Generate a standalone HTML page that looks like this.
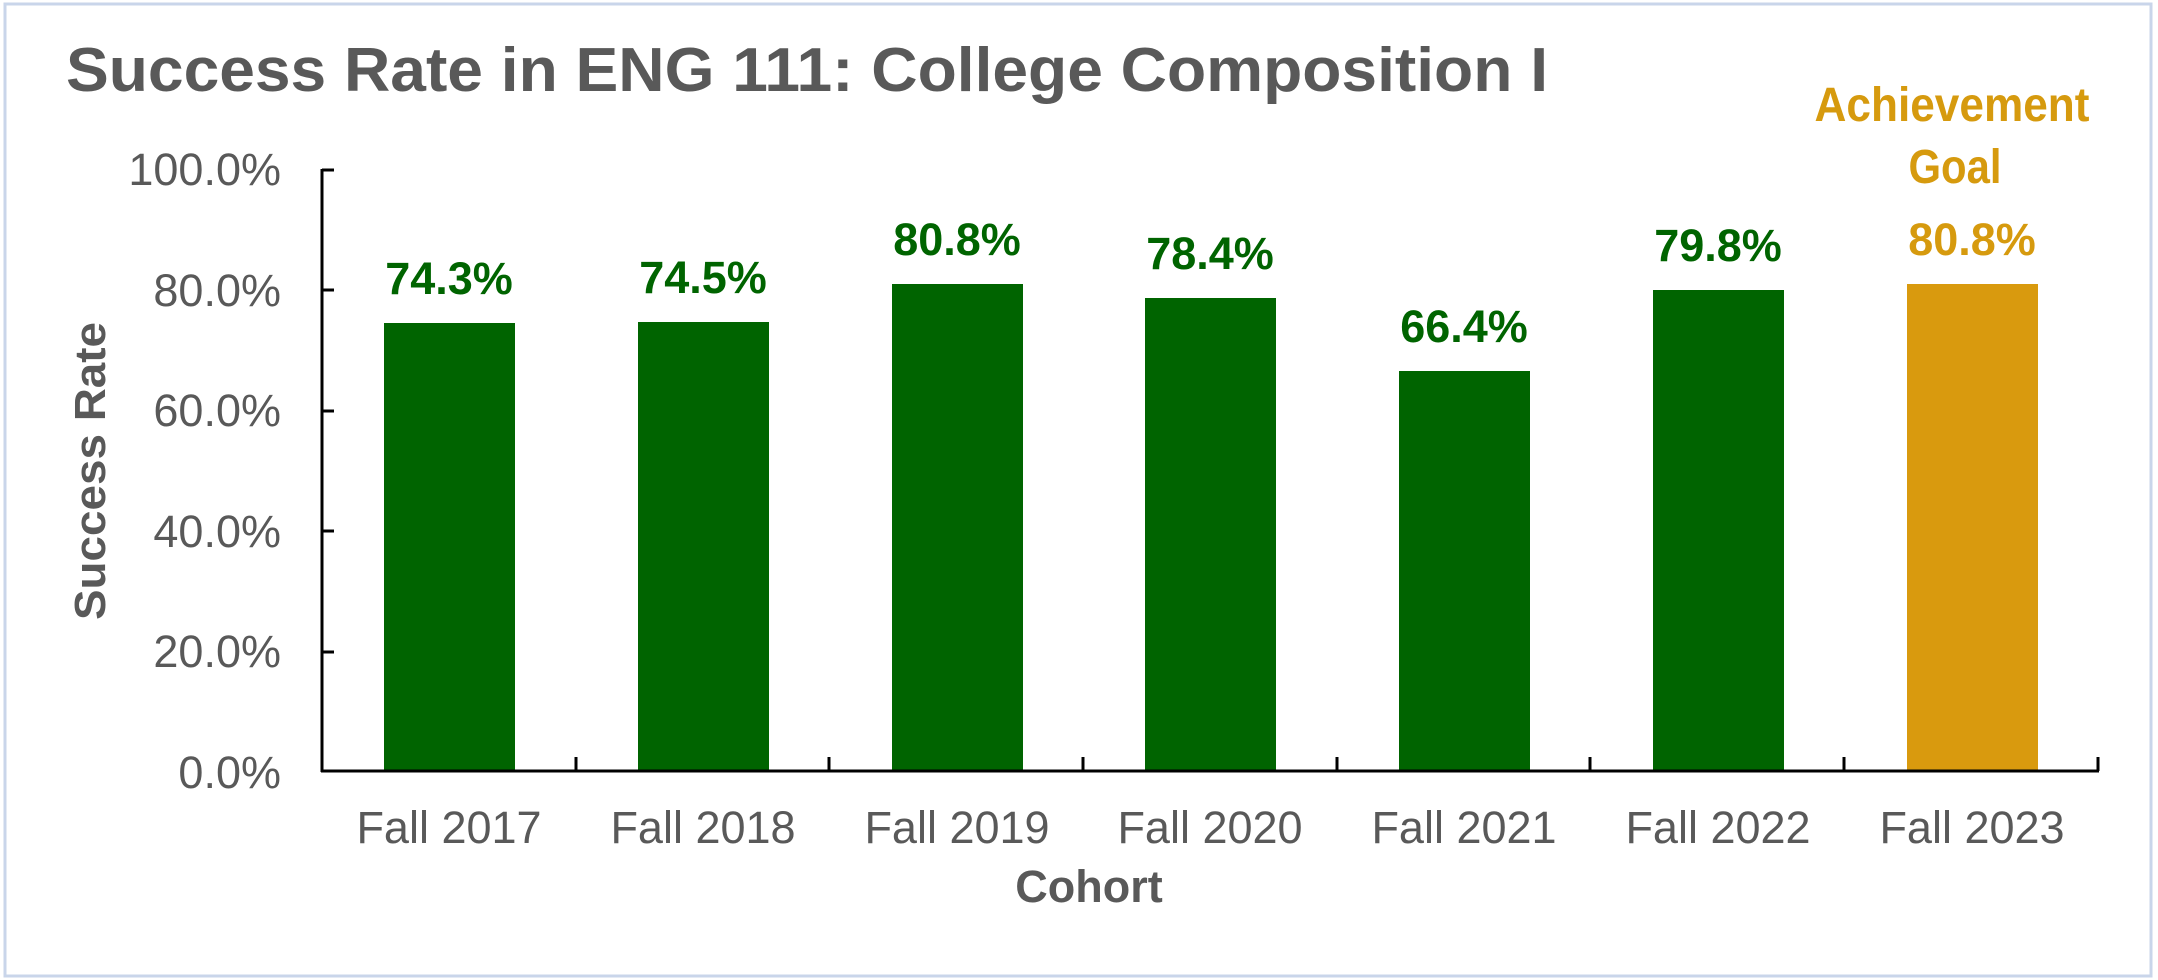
<!DOCTYPE html>
<html><head><meta charset="utf-8"><style>html,body{margin:0;padding:0;background:#fff}svg{display:block}</style></head><body>
<svg width="2158" height="980" viewBox="0 0 2158 980" xmlns="http://www.w3.org/2000/svg" font-family="Liberation Sans, Arial, sans-serif">
<rect x="5" y="4" width="2146" height="972" fill="#fff" stroke="#c9d5ea" stroke-width="3"/>
<text x="66" y="91" font-size="62" font-weight="bold" fill="#595959" textLength="1482" lengthAdjust="spacingAndGlyphs">Success Rate in ENG 111: College Composition I</text>
<g font-size="45" fill="#595959" text-anchor="end">
<text x="281" y="185">100.0%</text>
<text x="281" y="306">80.0%</text>
<text x="281" y="426">60.0%</text>
<text x="281" y="547">40.0%</text>
<text x="281" y="667">20.0%</text>
<text x="281" y="788">0.0%</text>
</g>
<g fill="#006400">
<rect x="384" y="323" width="131" height="448"/>
<rect x="638" y="322" width="131" height="449"/>
<rect x="892" y="284" width="131" height="487"/>
<rect x="1145" y="298" width="131" height="473"/>
<rect x="1399" y="371" width="131" height="400"/>
<rect x="1653" y="290" width="131" height="481"/>
</g>
<rect x="1907" y="284" width="131" height="487" fill="#d99a0e"/>
<g stroke="#000" stroke-width="3" fill="none">
<line x1="322" y1="169" x2="322" y2="772"/>
<line x1="321" y1="771" x2="2099" y2="771"/>
<line x1="322" y1="170" x2="334" y2="170"/>
<line x1="322" y1="290" x2="334" y2="290"/>
<line x1="322" y1="411" x2="334" y2="411"/>
<line x1="322" y1="531" x2="334" y2="531"/>
<line x1="322" y1="652" x2="334" y2="652"/>
<line x1="576" y1="771" x2="576" y2="757"/>
<line x1="829" y1="771" x2="829" y2="757"/>
<line x1="1083" y1="771" x2="1083" y2="757"/>
<line x1="1337" y1="771" x2="1337" y2="757"/>
<line x1="1590" y1="771" x2="1590" y2="757"/>
<line x1="1844" y1="771" x2="1844" y2="757"/>
<line x1="2098" y1="771" x2="2098" y2="757"/>
</g>
<g font-size="45" font-weight="bold" fill="#006400" text-anchor="middle">
<text x="449" y="294">74.3%</text>
<text x="703" y="293">74.5%</text>
<text x="957" y="255">80.8%</text>
<text x="1210" y="269">78.4%</text>
<text x="1464" y="342">66.4%</text>
<text x="1718" y="261">79.8%</text>
</g>
<g font-weight="bold" fill="#d69a0e" text-anchor="middle">
<text x="1972" y="255" font-size="45">80.8%</text>
<text x="1952" y="121" font-size="48" textLength="275" lengthAdjust="spacingAndGlyphs">Achievement</text>
<text x="1955" y="183" font-size="48" textLength="93" lengthAdjust="spacingAndGlyphs">Goal</text>
</g>
<g font-size="45" fill="#595959" text-anchor="middle">
<text x="449" y="843">Fall 2017</text>
<text x="703" y="843">Fall 2018</text>
<text x="957" y="843">Fall 2019</text>
<text x="1210" y="843">Fall 2020</text>
<text x="1464" y="843">Fall 2021</text>
<text x="1718" y="843">Fall 2022</text>
<text x="1972" y="843">Fall 2023</text>
</g>
<text x="1089" y="902" font-size="45" font-weight="bold" fill="#595959" text-anchor="middle">Cohort</text>
<text transform="translate(105,471) rotate(-90)" font-size="44" font-weight="bold" fill="#595959" text-anchor="middle" textLength="298" lengthAdjust="spacingAndGlyphs">Success Rate</text>
</svg>
</body></html>
